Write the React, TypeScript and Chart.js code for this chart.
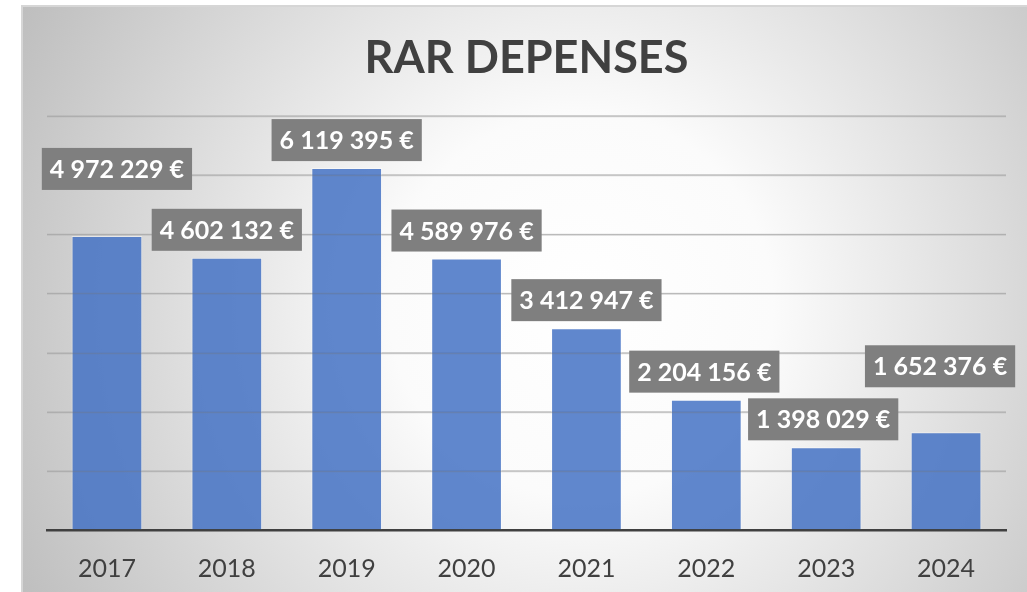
import React, { useEffect, useRef } from "react";
import { Chart, registerables } from "chart.js";

Chart.register(...registerables);

const categories = ["2017", "2018", "2019", "2020", "2021", "2022", "2023", "2024"];
const values = [4972229, 4602132, 6119395, 4589976, 3412947, 2204156, 1398029, 1652376];
const title = "RAR DEPENSES";
// label box offsets (pixels) relative to default position above each bar
const labelOffsetX = [10, 0, 0, 0, 0, -2, -3, -6];
const labelOffsetY = [-39, 0, 0, 0, 0, 0, 0, -38];

const fmt = (v: number) =>
  String(v).replace(/\B(?=(\d{3})+(?!\d))/g, " ") + " €";

const bgPlugin = {
  id: "bgGradient",
  beforeDraw(chart: any) {
    const { ctx, width, height } = chart;
    ctx.save();
    const g = ctx.createRadialGradient(560, 300, 0, 560, 300, 640);
    g.addColorStop(0, "#ffffff");
    g.addColorStop(0.3, "#fbfbfb");
    g.addColorStop(1, "#bdbdbd");
    ctx.fillStyle = g;
    ctx.fillRect(0, 0, width, height);
    ctx.strokeStyle = "#d6d6d6";
    ctx.lineWidth = 2;
    ctx.beginPath();
    ctx.moveTo(1, height);
    ctx.lineTo(1, 1);
    ctx.lineTo(width, 1);
    ctx.stroke();
    ctx.restore();
  },
};

const gridOverPlugin = {
  id: "gridOver",
  afterDatasetsDraw(chart: any) {
    const { ctx, chartArea, scales } = chart;
    const y = scales.y;
    ctx.save();
    ctx.strokeStyle = "rgba(120,120,120,0.3)";
    ctx.lineWidth = 1.5;
    y.ticks.forEach((t: any) => {
      if (t.value === 0) return;
      const py = Math.round(y.getPixelForValue(t.value)) + 0.5;
      ctx.beginPath();
      ctx.moveTo(chartArea.left, py);
      ctx.lineTo(chartArea.right, py);
      ctx.stroke();
    });
    ctx.restore();
  },
};

const labelPlugin = {
  id: "boxLabels",
  afterDatasetsDraw(chart: any) {
    const { ctx } = chart;
    const meta = chart.getDatasetMeta(0);
    ctx.save();
    ctx.font = "bold 25px Lato";
    ctx.textAlign = "center";
    ctx.textBaseline = "middle";
    meta.data.forEach((bar: any, i: number) => {
      const text = fmt(values[i]);
      const tw = ctx.measureText(text).width;
      const w = tw + 16;
      const h = 42;
      const cx = bar.x + labelOffsetX[i];
      const bottom = bar.y - 7 + labelOffsetY[i];
      ctx.fillStyle = "#7f7f7f";
      ctx.fillRect(cx - w / 2, bottom - h, w, h);
      ctx.fillStyle = "#ffffff";
      ctx.fillText(text, cx, bottom - h / 2 + 1);
    });
    ctx.restore();
  },
};

export default function App() {
  const ref = useRef<HTMLCanvasElement>(null);
  useEffect(() => {
    if (!ref.current) return;
    const chart = new Chart(ref.current, {
      type: "bar",
      data: {
        labels: categories,
        datasets: [
          {
            data: values,
            backgroundColor: "rgba(68,114,196,0.85)",
            borderColor: "rgba(255,255,255,0.45)",
            borderWidth: 1,
            barPercentage: 1,
            categoryPercentage: 0.59,
          },
        ],
      },
      options: {
        animation: false,
        responsive: false,
        maintainAspectRatio: false,
        layout: { padding: { left: 26, right: 21, top: 0, bottom: 14 } },
        plugins: {
          legend: { display: false },
          tooltip: { enabled: false },
          title: {
            display: true,
            text: title,
            color: "#404040",
            font: { family: "Lato", size: 45, weight: "bold" },
            padding: { top: 26, bottom: 31 },
          },
        },
        scales: {
          x: {
            grid: { display: false, drawTicks: false },
            border: { display: true, color: "#404040", width: 2.5 },
            ticks: {
              color: "#404040",
              font: { family: "Lato", size: 25 },
              padding: 24,
            },
          },
          y: {
            min: 0,
            max: 7000000,
            ticks: { display: false, stepSize: 1000000 },
            grid: { display: true, drawTicks: false, color: "rgba(190,190,190,0.6)", lineWidth: 1.5 },
            border: { display: false },
          },
        },
      },
      plugins: [bgPlugin, gridOverPlugin, labelPlugin],
    });
    return () => chart.destroy();
  }, []);
  return (
    <div
      style={{
        position: "fixed",
        left: 0,
        top: 0,
        width: 1027,
        height: 592,
        background: "#ffffff",
        overflow: "hidden",
      }}
    >
      <canvas
        ref={ref}
        width={1006}
        height={617}
        style={{ position: "absolute", left: 21, top: 5, width: 1006, height: 617 }}
      />
    </div>
  );
}
